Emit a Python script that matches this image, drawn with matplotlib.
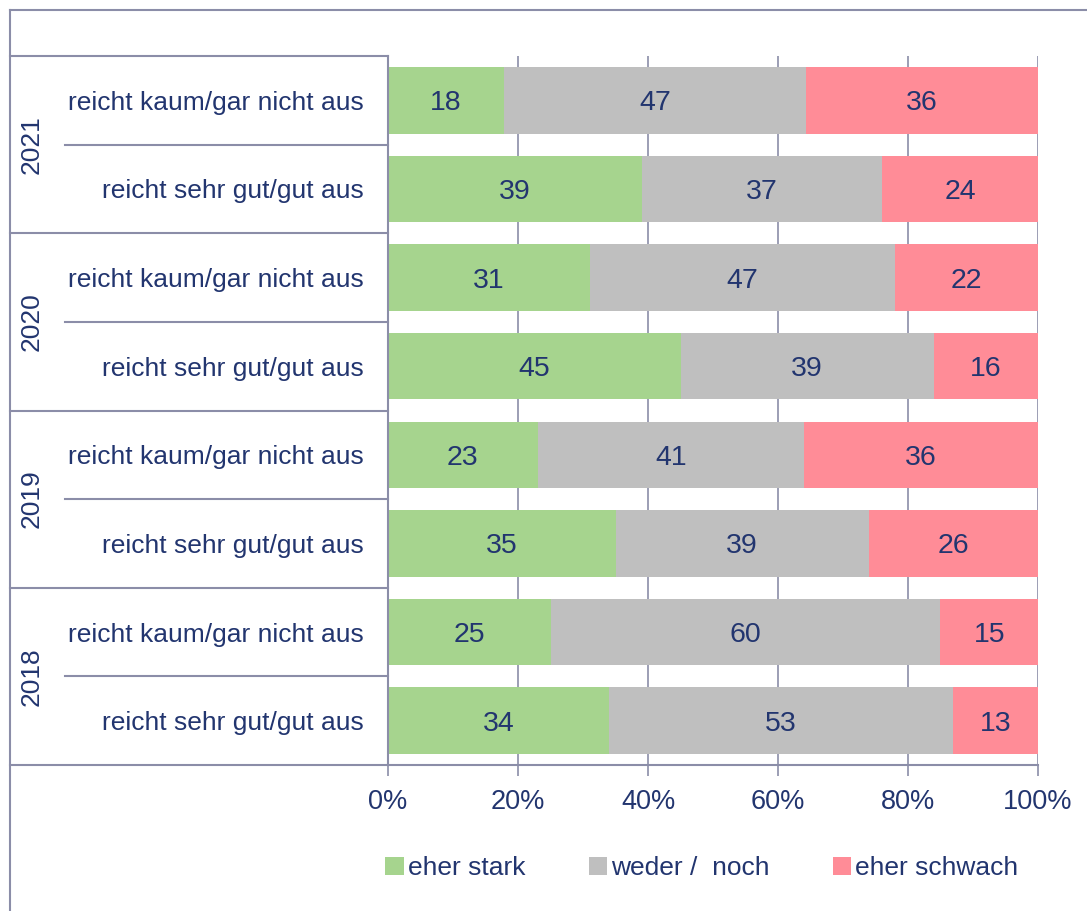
import matplotlib
matplotlib.use('Agg')
import matplotlib.pyplot as plt
from matplotlib.patches import Patch
from matplotlib.lines import Line2D
import numpy as np

plt.rcParams['font.family'] = ['Liberation Sans', 'DejaVu Sans']

years = ['2021', '2020', '2019', '2018']
rows = ['reicht kaum/gar nicht aus', 'reicht sehr gut/gut aus']
series = ['eher stark', 'weder /  noch', 'eher schwach']
stark = [18, 39, 31, 45, 23, 35, 25, 34]
weder = [47, 37, 47, 39, 41, 39, 60, 53]
schwach = [36, 24, 22, 16, 36, 26, 15, 13]

colors = ['#A6D48E', '#BFBFBF', '#FF8C97']
txt = '#22356F'
line_c = '#8B8DA8'
fs = 19

fig = plt.figure(figsize=(10.87, 9.11), dpi=100)
ax = fig.add_axes([388 / 1087, 146 / 911, 650 / 1087, 709 / 911])

vals = np.array([stark, weder, schwach], dtype=float)
shares = vals / vals.sum(axis=0) * 100
ypos = np.arange(len(stark))
left = np.zeros(len(stark))
for i in range(3):
    ax.barh(ypos, shares[i], left=left, height=0.75, color=colors[i], zorder=2)
    for y, l, w, v in zip(ypos, left, shares[i], vals[i]):
        ax.text(l + w / 2, y, f'{int(v)}', ha='center', va='center_baseline',
                fontsize=20.5, color=txt, zorder=3)
    left += shares[i]

ax.set_xlim(0, 100)
ax.set_ylim(len(stark) - 0.5, -0.5)
ax.set_xticks(np.arange(0, 101, 20))
ax.set_xticklabels([f'{t}%' for t in range(0, 101, 20)])
ax.set_yticks([])
ax.tick_params(axis='x', colors=line_c, labelcolor=txt, labelsize=19.5,
               length=8, width=1.2, pad=9)
ax.xaxis.grid(True, color=line_c, linewidth=1.2, zorder=0)
ax.set_axisbelow(True)
for s in ['top', 'right']:
    ax.spines[s].set_visible(False)
for s in ['left', 'bottom']:
    ax.spines[s].set_color(line_c)
    ax.spines[s].set_linewidth(1.5)

# left table with category labels
tr = ax.get_yaxis_transform()
x_outer = (10 - 388) / 650
x_inner = (65 - 388) / 650
for k in range(len(years) + 1):
    yb = 2 * k - 0.5
    ax.add_line(Line2D([x_outer, 0], [yb, yb], transform=tr, color=line_c,
                       linewidth=1.5, clip_on=False))
for k, yr in enumerate(years):
    yb = 2 * k + 0.5
    ax.add_line(Line2D([x_inner, 0], [yb, yb], transform=tr, color=line_c,
                       linewidth=1.5, clip_on=False))
    ax.text((32 - 388) / 650, 2 * k + 0.5, yr, transform=tr, rotation=90,
            ha='center', va='center', fontsize=fs, color=txt)
    for j, r in enumerate(rows):
        ax.text(-0.037, 2 * k + j, r, transform=tr, ha='right',
                va='center_baseline', fontsize=fs, color=txt)

# outer frame
fig.add_artist(Line2D([10 / 1087, 10 / 1087], [0, 1 - 10 / 911],
                      transform=fig.transFigure, color=line_c, linewidth=1.5))
fig.add_artist(Line2D([10 / 1087, 1], [1 - 10 / 911, 1 - 10 / 911],
                      transform=fig.transFigure, color=line_c, linewidth=1.5))

handles = [Patch(facecolor=c, edgecolor='none') for c in colors]
fig.legend(handles, series, loc='center', bbox_to_anchor=(702 / 1087, 1 - 868 / 911),
           ncol=3, frameon=False, fontsize=fs, labelcolor=txt,
           handlelength=0.7, handleheight=0.7, handletextpad=0.15,
           columnspacing=2.4)

fig.savefig('out.png', dpi=100)
